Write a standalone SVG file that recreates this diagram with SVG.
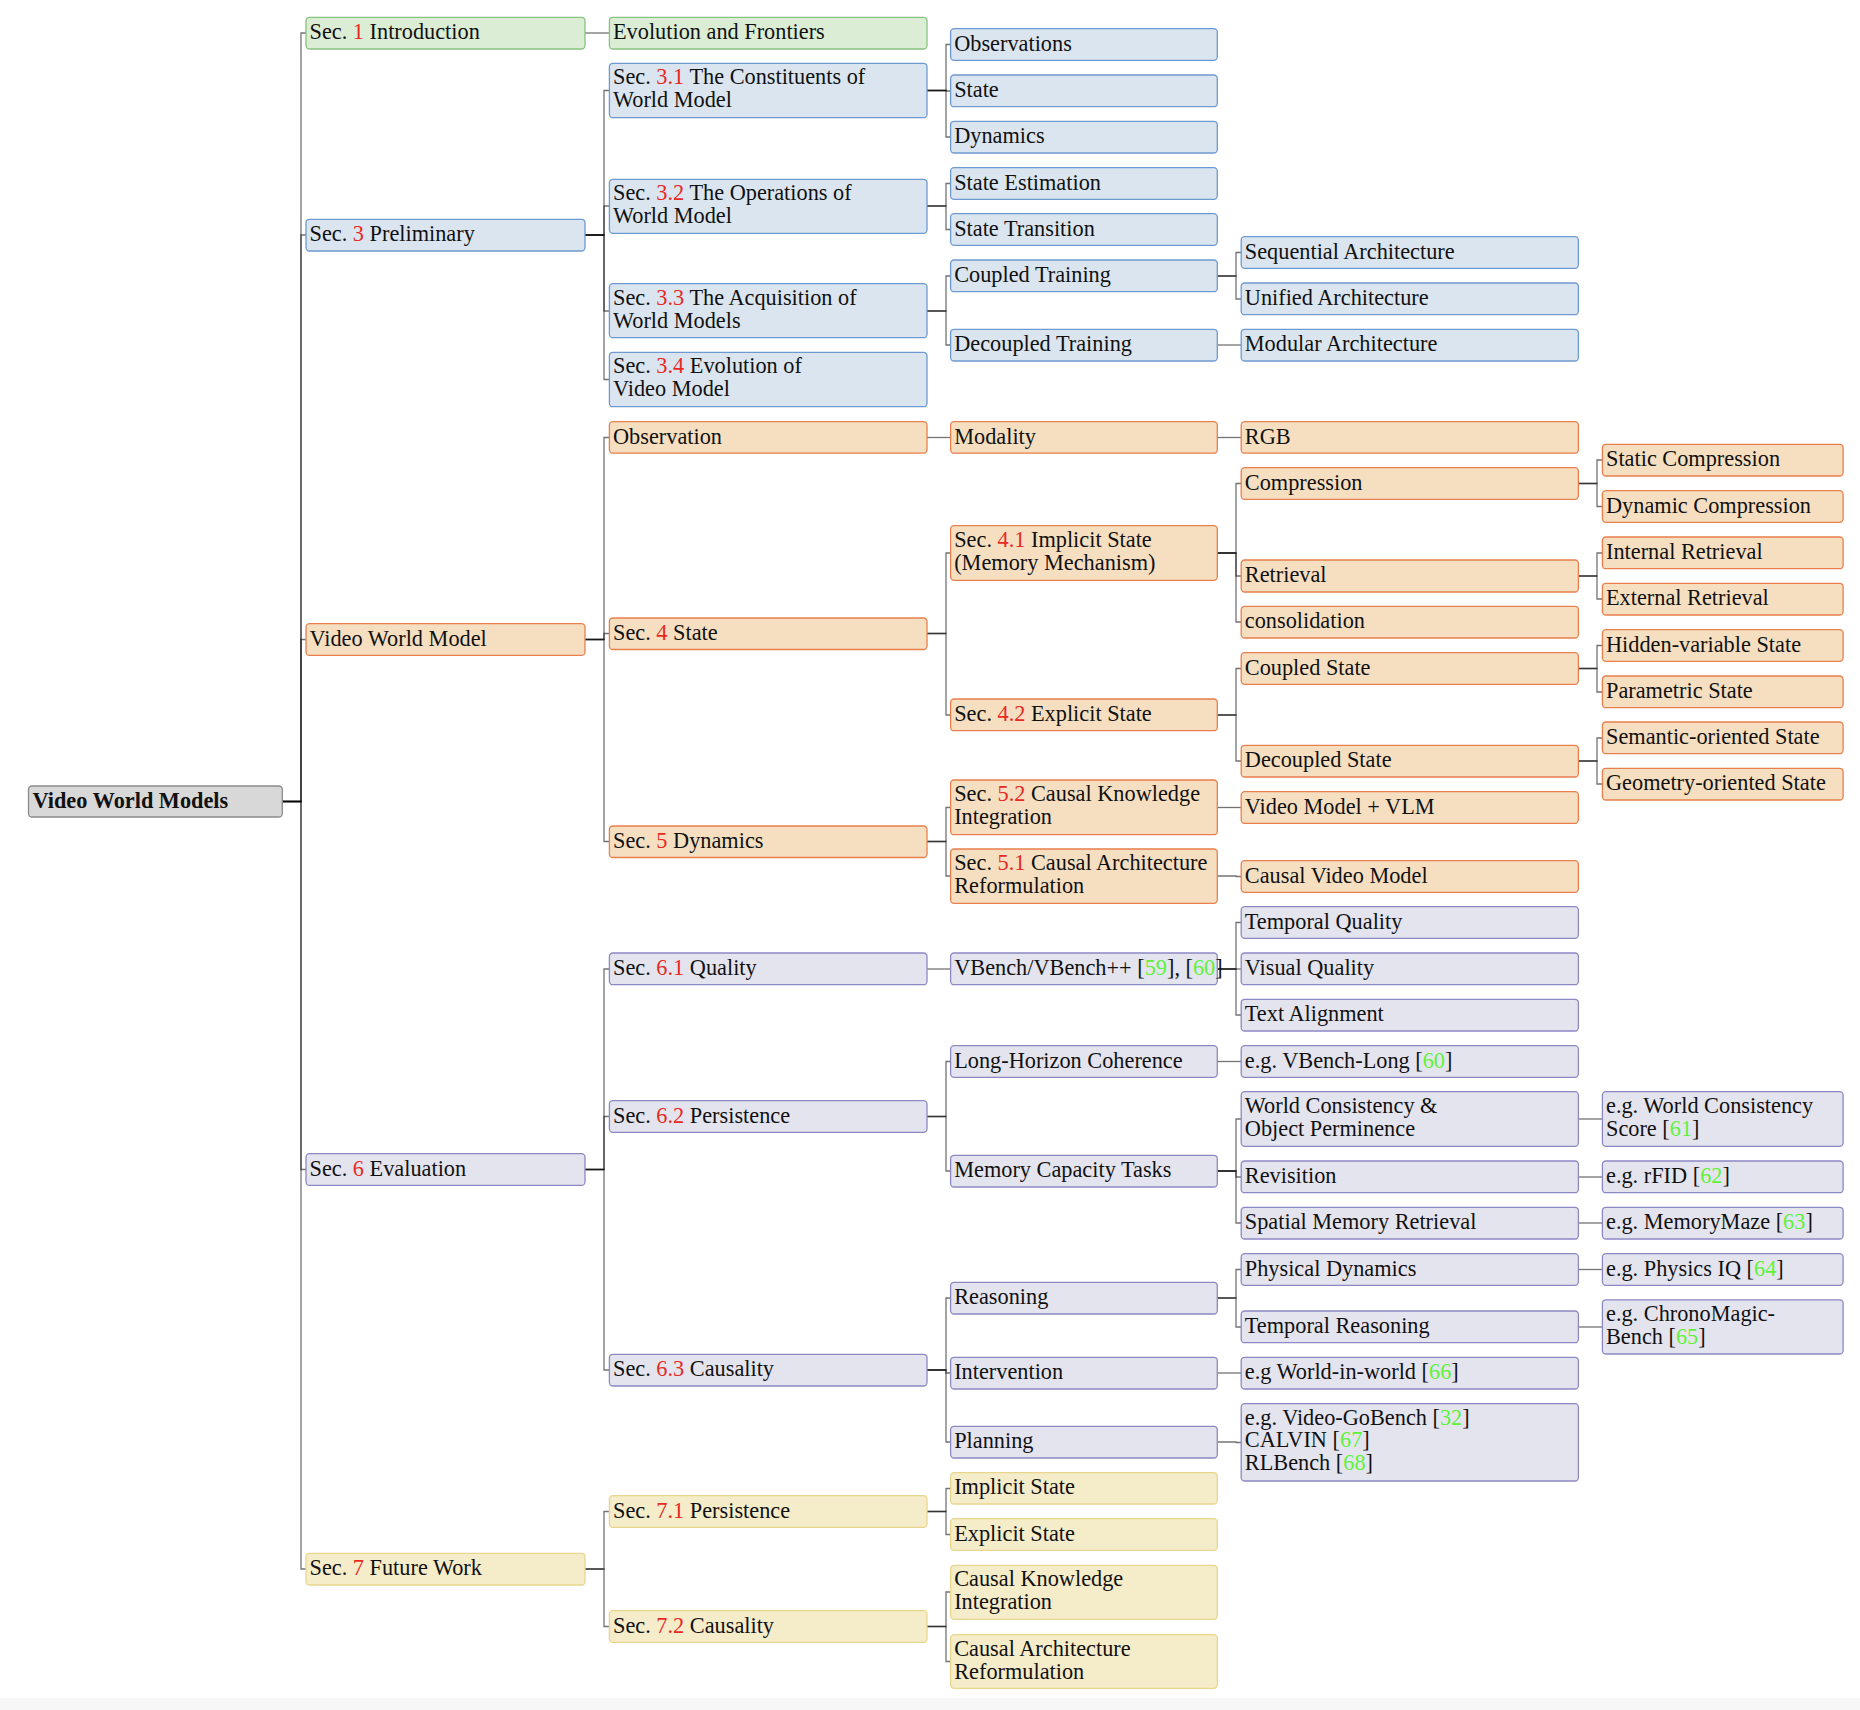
<svg xmlns="http://www.w3.org/2000/svg" width="1860" height="1710" viewBox="0 0 1860 1710">
<style>
text{font-family:"Liberation Serif","Times New Roman",serif;font-size:22.3px;fill:#111}
.n{fill:#e8291f}
.c{fill:#5ef23a}
rect{stroke-width:1.3}
.root{fill:#d8d8d8;stroke:#8a8a8a}
.g{fill:#dcedd6;stroke:#86c37f}
.b{fill:#dae5f0;stroke:#6d9ad0}
.o{fill:#f6dfc0;stroke:#e87f4c}
.p{fill:#e4e4ef;stroke:#8c88c3}
.y{fill:#f5ecca;stroke:#e9d68e}
#edges path{fill:none;stroke:#000;stroke-opacity:.55;stroke-width:1.3}
</style>
<rect x="0" y="0" width="1860" height="1710" fill="#ffffff" stroke="none"/>
<rect x="0" y="1698" width="1860" height="12" fill="#f7f7f7" stroke="none"/>

<g id="edges">
<path d="M282.3 801.5H301V33H306"/>
<path d="M282.3 801.5H301V235H306"/>
<path d="M282.3 801.5H301V639.5H306"/>
<path d="M282.3 801.5H301V1169.5H306"/>
<path d="M282.3 801.5H301V1569H306"/>
<path d="M585 33H604V33H609"/>
<path d="M585 235H604V90.5H609"/>
<path d="M585 235H604V206H609"/>
<path d="M585 235H604V311H609"/>
<path d="M585 235H604V379.5H609"/>
<path d="M585 639.5H604V437.5H609"/>
<path d="M585 639.5H604V633.5H609"/>
<path d="M585 639.5H604V841.5H609"/>
<path d="M585 1169.5H604V969H609"/>
<path d="M585 1169.5H604V1116.5H609"/>
<path d="M585 1169.5H604V1370H609"/>
<path d="M585 1569H604V1511.5H609"/>
<path d="M585 1569H604V1626.5H609"/>
<path d="M927 90.5H946V44.5H951"/>
<path d="M927 90.5H946V91H951"/>
<path d="M927 90.5H946V137H951"/>
<path d="M927 206H946V183.5H951"/>
<path d="M927 206H946V229.5H951"/>
<path d="M927 311H946V276H951"/>
<path d="M927 311H946V345H951"/>
<path d="M927 437.5H946V437.5H951"/>
<path d="M927 633.5H946V553H951"/>
<path d="M927 633.5H946V715H951"/>
<path d="M927 841.5H946V807.5H951"/>
<path d="M927 841.5H946V876H951"/>
<path d="M927 969H946V969H951"/>
<path d="M927 1116.5H946V1061.5H951"/>
<path d="M927 1116.5H946V1171H951"/>
<path d="M927 1370H946V1298H951"/>
<path d="M927 1370H946V1373H951"/>
<path d="M927 1370H946V1442H951"/>
<path d="M927 1511.5H946V1488.5H951"/>
<path d="M927 1511.5H946V1534.5H951"/>
<path d="M927 1626.5H946V1592H951"/>
<path d="M927 1626.5H946V1661.5H951"/>
<path d="M1217 276H1236V252.5H1241"/>
<path d="M1217 276H1236V299H1241"/>
<path d="M1217 345H1236V345H1241"/>
<path d="M1217 437.5H1236V437.5H1241"/>
<path d="M1217 553H1236V483.5H1241"/>
<path d="M1217 553H1236V576H1241"/>
<path d="M1217 553H1236V622H1241"/>
<path d="M1217 715H1236V668.5H1241"/>
<path d="M1217 715H1236V761H1241"/>
<path d="M1217 807.5H1236V807.5H1241"/>
<path d="M1217 876H1236V876.5H1241"/>
<path d="M1217 969H1236V922.5H1241"/>
<path d="M1217 969H1236V969H1241"/>
<path d="M1217 969H1236V1015H1241"/>
<path d="M1217 1061.5H1236V1061.5H1241"/>
<path d="M1217 1171H1236V1119H1241"/>
<path d="M1217 1171H1236V1177H1241"/>
<path d="M1217 1171H1236V1223H1241"/>
<path d="M1217 1298H1236V1269.5H1241"/>
<path d="M1217 1298H1236V1327H1241"/>
<path d="M1217 1373H1236V1373H1241"/>
<path d="M1217 1442H1236V1442.5H1241"/>
<path d="M1578 483.5H1597V460H1602"/>
<path d="M1578 483.5H1597V506.5H1602"/>
<path d="M1578 576H1597V553H1602"/>
<path d="M1578 576H1597V599H1602"/>
<path d="M1578 668.5H1597V645.5H1602"/>
<path d="M1578 668.5H1597V692H1602"/>
<path d="M1578 761H1597V738H1602"/>
<path d="M1578 761H1597V784H1602"/>
<path d="M1578 1119H1597V1119H1602"/>
<path d="M1578 1177H1597V1177H1602"/>
<path d="M1578 1223H1597V1223H1602"/>
<path d="M1578 1269.5H1597V1269.5H1602"/>
<path d="M1578 1327H1597V1327H1602"/>
</g>

<g id="n-root"><rect class="root" x="28.5" y="786" width="253.8" height="31" rx="3.5"/><text x="32.5" y="808" font-weight="bold">Video World Models</text></g>

<g id="n-intro"><rect class="g" x="306" y="17.3" width="279" height="31.7" rx="3.5"/><text x="309.5" y="39">Sec. <tspan class="n">1</tspan> Introduction</text></g>
<g id="n-prelim"><rect class="b" x="306" y="219.3" width="279" height="31.7" rx="3.5"/><text x="309.5" y="241">Sec. <tspan class="n">3</tspan> Preliminary</text></g>
<g id="n-vwm"><rect class="o" x="306" y="623.7" width="279" height="31.7" rx="3.5"/><text x="309.5" y="645.5">Video World Model</text></g>
<g id="n-eval"><rect class="p" x="306" y="1153.7" width="279" height="31.7" rx="3.5"/><text x="309.5" y="1175.5">Sec. <tspan class="n">6</tspan> Evaluation</text></g>
<g id="n-future"><rect class="y" x="306" y="1553.3" width="279" height="31.7" rx="3.5"/><text x="309.5" y="1575">Sec. <tspan class="n">7</tspan> Future Work</text></g>

<g id="n-evol"><rect class="g" x="609.4" y="17.3" width="317.6" height="31.7" rx="3.5"/><text x="613" y="39">Evolution and Frontiers</text></g>
<g id="n-s31"><rect class="b" x="609.4" y="63.3" width="317.6" height="54.4" rx="3.5"/><text x="613" y="84.3">Sec. <tspan class="n">3.1</tspan> The Constituents of<tspan x="613" dy="23">World Model</tspan></text></g>
<g id="n-s32"><rect class="b" x="609.4" y="179.3" width="317.6" height="54" rx="3.5"/><text x="613" y="200.3">Sec. <tspan class="n">3.2</tspan> The Operations of<tspan x="613" dy="23">World Model</tspan></text></g>
<g id="n-s33"><rect class="b" x="609.4" y="283.7" width="317.6" height="54" rx="3.5"/><text x="613" y="304.7">Sec. <tspan class="n">3.3</tspan> The Acquisition of<tspan x="613" dy="23">World Models</tspan></text></g>
<g id="n-s34"><rect class="b" x="609.4" y="352.3" width="317.6" height="54.4" rx="3.5"/><text x="613" y="373.3">Sec. <tspan class="n">3.4</tspan> Evolution of<tspan x="613" dy="23">Video Model</tspan></text></g>
<g id="n-obs"><rect class="o" x="609.4" y="421.7" width="317.6" height="31.5" rx="3.5"/><text x="613" y="443.5">Observation</text></g>
<g id="n-s4"><rect class="o" x="609.4" y="618" width="317.6" height="31.5" rx="3.5"/><text x="613" y="639.8">Sec. <tspan class="n">4</tspan> State</text></g>
<g id="n-s5"><rect class="o" x="609.4" y="826" width="317.6" height="31.5" rx="3.5"/><text x="613" y="847.8">Sec. <tspan class="n">5</tspan> Dynamics</text></g>
<g id="n-s61"><rect class="p" x="609.4" y="953" width="317.6" height="31.7" rx="3.5"/><text x="613" y="974.8">Sec. <tspan class="n">6.1</tspan> Quality</text></g>
<g id="n-s62"><rect class="p" x="609.4" y="1100.7" width="317.6" height="31.6" rx="3.5"/><text x="613" y="1122.5">Sec. <tspan class="n">6.2</tspan> Persistence</text></g>
<g id="n-s63"><rect class="p" x="609.4" y="1354.3" width="317.6" height="31.7" rx="3.5"/><text x="613" y="1376">Sec. <tspan class="n">6.3</tspan> Causality</text></g>
<g id="n-s71"><rect class="y" x="609.4" y="1495.7" width="317.6" height="31.6" rx="3.5"/><text x="613" y="1517.5">Sec. <tspan class="n">7.1</tspan> Persistence</text></g>
<g id="n-s72"><rect class="y" x="609.4" y="1610.7" width="317.6" height="31.6" rx="3.5"/><text x="613" y="1632.5">Sec. <tspan class="n">7.2</tspan> Causality</text></g>

<g id="n-observations"><rect class="b" x="950.6" y="28.7" width="266.7" height="31.6" rx="3.5"/><text x="954.2" y="50.5">Observations</text></g>
<g id="n-state"><rect class="b" x="950.6" y="75" width="266.7" height="31.7" rx="3.5"/><text x="954.2" y="96.8">State</text></g>
<g id="n-dynamics"><rect class="b" x="950.6" y="121.3" width="266.7" height="31.7" rx="3.5"/><text x="954.2" y="143.1">Dynamics</text></g>
<g id="n-stateest"><rect class="b" x="950.6" y="167.7" width="266.7" height="31.6" rx="3.5"/><text x="954.2" y="189.5">State Estimation</text></g>
<g id="n-statetrans"><rect class="b" x="950.6" y="213.7" width="266.7" height="31.6" rx="3.5"/><text x="954.2" y="235.5">State Transition</text></g>
<g id="n-coupledtr"><rect class="b" x="950.6" y="260" width="266.7" height="31.7" rx="3.5"/><text x="954.2" y="281.8">Coupled Training</text></g>
<g id="n-decoupledtr"><rect class="b" x="950.6" y="329.3" width="266.7" height="31.7" rx="3.5"/><text x="954.2" y="351.1">Decoupled Training</text></g>
<g id="n-modality"><rect class="o" x="950.6" y="421.7" width="266.7" height="31.5" rx="3.5"/><text x="954.2" y="443.5">Modality</text></g>
<g id="n-s41"><rect class="o" x="950.6" y="525.7" width="266.7" height="54.6" rx="3.5"/><text x="954.2" y="546.7">Sec. <tspan class="n">4.1</tspan> Implicit State<tspan x="954.2" dy="23">(Memory Mechanism)</tspan></text></g>
<g id="n-s42"><rect class="o" x="950.6" y="699" width="266.7" height="31.7" rx="3.5"/><text x="954.2" y="720.8">Sec. <tspan class="n">4.2</tspan> Explicit State</text></g>
<g id="n-s52"><rect class="o" x="950.6" y="780" width="266.7" height="54.7" rx="3.5"/><text x="954.2" y="801">Sec. <tspan class="n">5.2</tspan> Causal Knowledge<tspan x="954.2" dy="23">Integration</tspan></text></g>
<g id="n-s51"><rect class="o" x="950.6" y="849" width="266.7" height="54.3" rx="3.5"/><text x="954.2" y="870">Sec. <tspan class="n">5.1</tspan> Causal Architecture<tspan x="954.2" dy="23">Reformulation</tspan></text></g>
<g id="n-vbench"><rect class="p" x="950.6" y="953" width="266.7" height="31.7" rx="3.5"/><text x="954.2" y="974.8">VBench/VBench++ [<tspan class="c">59</tspan>], [<tspan class="c">60</tspan>]</text></g>
<g id="n-longhor"><rect class="p" x="950.6" y="1045.7" width="266.7" height="31.6" rx="3.5"/><text x="954.2" y="1067.5">Long-Horizon Coherence</text></g>
<g id="n-memcap"><rect class="p" x="950.6" y="1155.3" width="266.7" height="31.7" rx="3.5"/><text x="954.2" y="1177">Memory Capacity Tasks</text></g>
<g id="n-reasoning"><rect class="p" x="950.6" y="1282.3" width="266.7" height="31.7" rx="3.5"/><text x="954.2" y="1304">Reasoning</text></g>
<g id="n-intervention"><rect class="p" x="950.6" y="1357.3" width="266.7" height="31.7" rx="3.5"/><text x="954.2" y="1379">Intervention</text></g>
<g id="n-planning"><rect class="p" x="950.6" y="1426.3" width="266.7" height="31.7" rx="3.5"/><text x="954.2" y="1448">Planning</text></g>
<g id="n-implicit"><rect class="y" x="950.6" y="1472.7" width="266.7" height="31.3" rx="3.5"/><text x="954.2" y="1494.4">Implicit State</text></g>
<g id="n-explicit"><rect class="y" x="950.6" y="1518.7" width="266.7" height="31.6" rx="3.5"/><text x="954.2" y="1540.5">Explicit State</text></g>
<g id="n-cki"><rect class="y" x="950.6" y="1565.3" width="266.7" height="54" rx="3.5"/><text x="954.2" y="1586.3">Causal Knowledge<tspan x="954.2" dy="23">Integration</tspan></text></g>
<g id="n-car"><rect class="y" x="950.6" y="1634.7" width="266.7" height="53.6" rx="3.5"/><text x="954.2" y="1655.7">Causal Architecture<tspan x="954.2" dy="23">Reformulation</tspan></text></g>

<g id="n-seqarch"><rect class="b" x="1241.2" y="236.7" width="337.2" height="31.6" rx="3.5"/><text x="1244.8" y="258.5">Sequential Architecture</text></g>
<g id="n-uniarch"><rect class="b" x="1241.2" y="283" width="337.2" height="31.7" rx="3.5"/><text x="1244.8" y="304.8">Unified Architecture</text></g>
<g id="n-modarch"><rect class="b" x="1241.2" y="329.3" width="337.2" height="31.7" rx="3.5"/><text x="1244.8" y="351.1">Modular Architecture</text></g>
<g id="n-rgb"><rect class="o" x="1241.2" y="421.7" width="337.2" height="31.5" rx="3.5"/><text x="1244.8" y="443.5">RGB</text></g>
<g id="n-compression"><rect class="o" x="1241.2" y="467.7" width="337.2" height="31.6" rx="3.5"/><text x="1244.8" y="489.5">Compression</text></g>
<g id="n-retrieval"><rect class="o" x="1241.2" y="560" width="337.2" height="32" rx="3.5"/><text x="1244.8" y="582">Retrieval</text></g>
<g id="n-consol"><rect class="o" x="1241.2" y="606.3" width="337.2" height="31.7" rx="3.5"/><text x="1244.8" y="628">consolidation</text></g>
<g id="n-coupledst"><rect class="o" x="1241.2" y="652.7" width="337.2" height="31.6" rx="3.5"/><text x="1244.8" y="674.5">Coupled State</text></g>
<g id="n-decoupledst"><rect class="o" x="1241.2" y="745.3" width="337.2" height="31.7" rx="3.5"/><text x="1244.8" y="767">Decoupled State</text></g>
<g id="n-vmvlm"><rect class="o" x="1241.2" y="791.7" width="337.2" height="31.6" rx="3.5"/><text x="1244.8" y="813.5">Video Model + VLM</text></g>
<g id="n-cvm"><rect class="o" x="1241.2" y="860.7" width="337.2" height="31.6" rx="3.5"/><text x="1244.8" y="882.5">Causal Video Model</text></g>
<g id="n-tempq"><rect class="p" x="1241.2" y="906.7" width="337.2" height="31.6" rx="3.5"/><text x="1244.8" y="928.5">Temporal Quality</text></g>
<g id="n-visq"><rect class="p" x="1241.2" y="953" width="337.2" height="31.7" rx="3.5"/><text x="1244.8" y="974.8">Visual Quality</text></g>
<g id="n-texta"><rect class="p" x="1241.2" y="999.3" width="337.2" height="31.7" rx="3.5"/><text x="1244.8" y="1021">Text Alignment</text></g>
<g id="n-vblong"><rect class="p" x="1241.2" y="1045.7" width="337.2" height="31.6" rx="3.5"/><text x="1244.8" y="1067.5">e.g. VBench-Long [<tspan class="c">60</tspan>]</text></g>
<g id="n-wcop"><rect class="p" x="1241.2" y="1091.7" width="337.2" height="54.6" rx="3.5"/><text x="1244.8" y="1112.7">World Consistency &amp;<tspan x="1244.8" dy="23">Object Perminence</tspan></text></g>
<g id="n-revisition"><rect class="p" x="1241.2" y="1161" width="337.2" height="31.7" rx="3.5"/><text x="1244.8" y="1182.8">Revisition</text></g>
<g id="n-spatial"><rect class="p" x="1241.2" y="1207.3" width="337.2" height="31.7" rx="3.5"/><text x="1244.8" y="1229">Spatial Memory Retrieval</text></g>
<g id="n-physdyn"><rect class="p" x="1241.2" y="1253.7" width="337.2" height="31.6" rx="3.5"/><text x="1244.8" y="1275.5">Physical Dynamics</text></g>
<g id="n-tempreas"><rect class="p" x="1241.2" y="1311" width="337.2" height="31.7" rx="3.5"/><text x="1244.8" y="1332.8">Temporal Reasoning</text></g>
<g id="n-wiw"><rect class="p" x="1241.2" y="1357.3" width="337.2" height="31.7" rx="3.5"/><text x="1244.8" y="1379">e.g World-in-world [<tspan class="c">66</tspan>]</text></g>
<g id="n-gobench"><rect class="p" x="1241.2" y="1403.7" width="337.2" height="77.3" rx="3.5"/><text x="1244.8" y="1424.8">e.g. Video-GoBench [<tspan class="c">32</tspan>]<tspan x="1244.8" dy="22.6">CALVIN [</tspan><tspan class="c">67</tspan>]<tspan x="1244.8" dy="22.6">RLBench [</tspan><tspan class="c">68</tspan>]</text></g>

<g id="n-staticc"><rect class="o" x="1602.4" y="444.3" width="240.7" height="31.7" rx="3.5"/><text x="1606" y="466">Static Compression</text></g>
<g id="n-dync"><rect class="o" x="1602.4" y="490.7" width="240.7" height="31.6" rx="3.5"/><text x="1606" y="512.5">Dynamic Compression</text></g>
<g id="n-intr"><rect class="o" x="1602.4" y="537" width="240.7" height="31.7" rx="3.5"/><text x="1606" y="558.8">Internal Retrieval</text></g>
<g id="n-extr"><rect class="o" x="1602.4" y="583.3" width="240.7" height="31.7" rx="3.5"/><text x="1606" y="605">External Retrieval</text></g>
<g id="n-hidden"><rect class="o" x="1602.4" y="629.7" width="240.7" height="31.6" rx="3.5"/><text x="1606" y="651.5">Hidden-variable State</text></g>
<g id="n-param"><rect class="o" x="1602.4" y="676" width="240.7" height="31.7" rx="3.5"/><text x="1606" y="697.8">Parametric State</text></g>
<g id="n-semantic"><rect class="o" x="1602.4" y="722" width="240.7" height="31.7" rx="3.5"/><text x="1606" y="743.8">Semantic-oriented State</text></g>
<g id="n-geometry"><rect class="o" x="1602.4" y="768.3" width="240.7" height="31.7" rx="3.5"/><text x="1606" y="790">Geometry-oriented State</text></g>
<g id="n-wcs"><rect class="p" x="1602.4" y="1091.7" width="240.7" height="54.6" rx="3.5"/><text x="1606" y="1112.7">e.g. World Consistency<tspan x="1606" dy="23">Score [</tspan><tspan class="c">61</tspan>]</text></g>
<g id="n-rfid"><rect class="p" x="1602.4" y="1161" width="240.7" height="31.7" rx="3.5"/><text x="1606" y="1182.8">e.g. rFID [<tspan class="c">62</tspan>]</text></g>
<g id="n-memmaze"><rect class="p" x="1602.4" y="1207.3" width="240.7" height="31.7" rx="3.5"/><text x="1606" y="1229">e.g. MemoryMaze [<tspan class="c">63</tspan>]</text></g>
<g id="n-physiq"><rect class="p" x="1602.4" y="1253.7" width="240.7" height="31.6" rx="3.5"/><text x="1606" y="1275.5">e.g. Physics IQ [<tspan class="c">64</tspan>]</text></g>
<g id="n-chrono"><rect class="p" x="1602.4" y="1299.8" width="240.7" height="54.2" rx="3.5"/><text x="1606" y="1320.8">e.g. ChronoMagic-<tspan x="1606" dy="23">Bench [</tspan><tspan class="c">65</tspan>]</text></g>
</svg>
